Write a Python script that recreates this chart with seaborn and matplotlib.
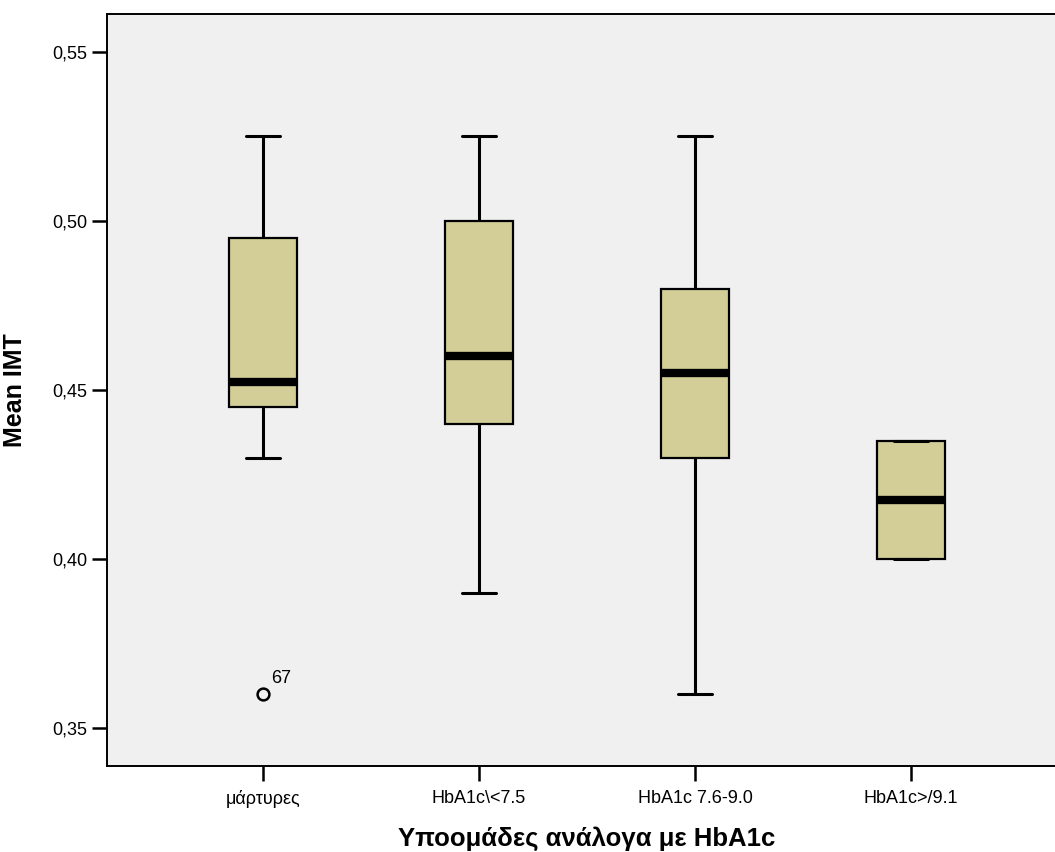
import matplotlib
matplotlib.use("Agg")
import matplotlib.pyplot as plt
import seaborn as sns
import pandas as pd

# ---- data ----
groups = ["μάρτυρες", "HbA1c\\<7.5", "HbA1c 7.6-9.0", "HbA1c>/9.1"]
whisker_low = [0.43, 0.39, 0.36, 0.40]
q1 = [0.445, 0.44, 0.43, 0.40]
median = [0.4525, 0.46, 0.455, 0.4175]
q3 = [0.495, 0.50, 0.48, 0.435]
whisker_high = [0.525, 0.525, 0.525, 0.435]
outlier_group = ["μάρτυρες"]
outlier_value = [0.36]
outlier_label = ["67"]
yticks = [0.35, 0.40, 0.45, 0.50, 0.55]
ytick_labels = ["0,35", "0,40", "0,45", "0,50", "0,55"]
x_title = "Υποομάδες ανάλογα με HbA1c"
y_title = "Mean IMT"

# five-number summaries -> minimal samples reproducing them exactly
rows = []
for g, lo, a, m, b, hi in zip(groups, whisker_low, q1, median, q3, whisker_high):
    for v in (lo, a, m, b, hi):
        rows.append({"group": g, "value": v})
df = pd.DataFrame(rows)

sns.set_style("white")
plt.rcParams["font.family"] = ["Liberation Sans", "DejaVu Sans"]
plt.rcParams["text.color"] = "black"
plt.rcParams["axes.labelcolor"] = "black"

W, H = 1055, 852
fig = plt.figure(figsize=(W / 100, H / 100), dpi=100)
left_px, right_px, top_px, bot_px = 107, 1055, 14, 766
ax = fig.add_axes([left_px / W, 1 - bot_px / H, (right_px - left_px) / W, (bot_px - top_px) / H])
ax.set_facecolor("#F0F0F0")

sns.boxplot(
    data=df, x="group", y="value", order=groups, ax=ax,
    whis=(0, 100), width=0.315, showfliers=False,
    color="#D3CE97", saturation=1, linecolor="black", linewidth=1.6,
    medianprops=dict(color="black", linewidth=6, solid_capstyle="butt"),
    whiskerprops=dict(color="black", linewidth=2.2),
    capprops=dict(color="black", linewidth=2.2),
)

for g, v, lab in zip(outlier_group, outlier_value, outlier_label):
    xi = groups.index(g)
    ax.plot([xi], [v], marker="o", ms=8.5, mfc="none", mec="black", mew=1.8, ls="none")
    ax.annotate(lab, (xi, v), xytext=(6, 5), textcoords="offset points",
                ha="left", va="bottom", fontsize=13, color="black")

# axes scaling: category centres at 263, 479, 695, 911 px
px_per_unit = 216
x0_px = 263
ax.set_xlim((left_px - x0_px) / px_per_unit, (right_px - x0_px) / px_per_unit)
ax.set_ylim(0.35 - (bot_px - 728) / 3380, 0.55 + (52 - top_px) / 3380)

ax.set_yticks(yticks)
ax.set_yticklabels(ytick_labels)
ax.tick_params(axis="both", which="major", direction="out", length=11, width=1.8,
               labelsize=13, color="black", labelcolor="black",
               bottom=True, left=True, top=False, right=False)
ax.tick_params(axis="y", pad=3)
ax.tick_params(axis="x", pad=6)
ax.set_xlabel(x_title, fontsize=18.5, fontweight="bold", color="black")
ax.set_ylabel(y_title, fontsize=18, fontweight="bold", labelpad=18, color="black")
ax.xaxis.set_label_coords((587 - left_px) / (right_px - left_px), (bot_px - 826) / (bot_px - top_px))

for s in ["left", "bottom", "top"]:
    ax.spines[s].set_visible(True)
    ax.spines[s].set_color("black")
    ax.spines[s].set_linewidth(1.4)
ax.spines["right"].set_visible(False)

fig.savefig("out.png", dpi=100, facecolor="white")
